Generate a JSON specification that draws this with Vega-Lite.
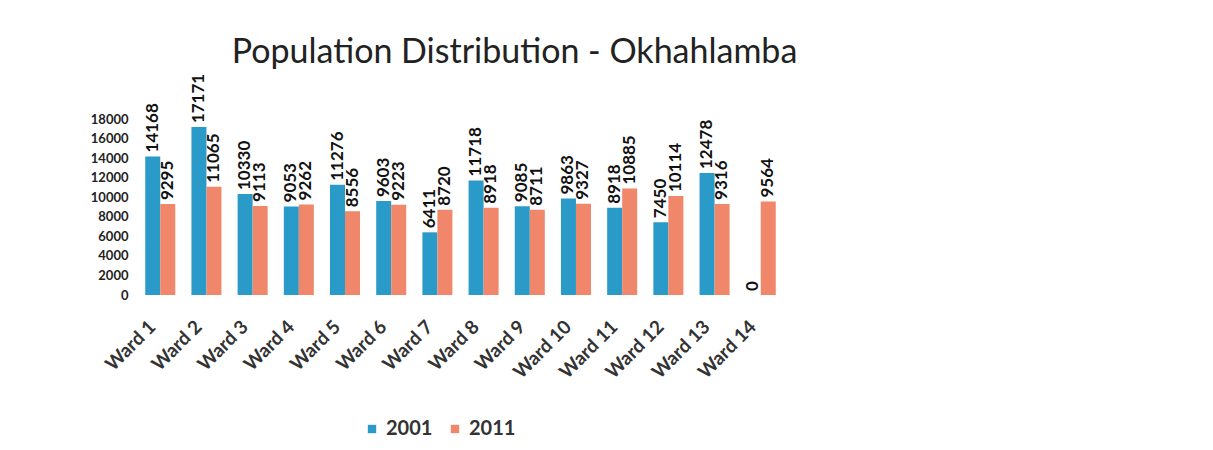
{
  "$schema": "https://vega.github.io/schema/vega-lite/v6.json",
  "width": 649,
  "height": 176,
  "autosize": "none",
  "padding": {"left": 136, "top": 119, "right": 428, "bottom": 155},
  "background": "white",
  "config": {
    "font": "Lato",
    "view": {"stroke": null}
  },
  "title": {
    "text": "Population Distribution - Okhahlamba",
    "fontSize": 34,
    "fontWeight": "normal",
    "color": "#222222",
    "anchor": "middle",
    "dx": 54,
    "offset": 4
  },
  "data": {
    "values": [
      {"ward": "Ward 1", "year": "2001", "pop": 14168},
      {"ward": "Ward 1", "year": "2011", "pop": 9295},
      {"ward": "Ward 2", "year": "2001", "pop": 17171},
      {"ward": "Ward 2", "year": "2011", "pop": 11065},
      {"ward": "Ward 3", "year": "2001", "pop": 10330},
      {"ward": "Ward 3", "year": "2011", "pop": 9113},
      {"ward": "Ward 4", "year": "2001", "pop": 9053},
      {"ward": "Ward 4", "year": "2011", "pop": 9262},
      {"ward": "Ward 5", "year": "2001", "pop": 11276},
      {"ward": "Ward 5", "year": "2011", "pop": 8556},
      {"ward": "Ward 6", "year": "2001", "pop": 9603},
      {"ward": "Ward 6", "year": "2011", "pop": 9223},
      {"ward": "Ward 7", "year": "2001", "pop": 6411},
      {"ward": "Ward 7", "year": "2011", "pop": 8720},
      {"ward": "Ward 8", "year": "2001", "pop": 11718},
      {"ward": "Ward 8", "year": "2011", "pop": 8918},
      {"ward": "Ward 9", "year": "2001", "pop": 9085},
      {"ward": "Ward 9", "year": "2011", "pop": 8711},
      {"ward": "Ward 10", "year": "2001", "pop": 9863},
      {"ward": "Ward 10", "year": "2011", "pop": 9327},
      {"ward": "Ward 11", "year": "2001", "pop": 8918},
      {"ward": "Ward 11", "year": "2011", "pop": 10885},
      {"ward": "Ward 12", "year": "2001", "pop": 7450},
      {"ward": "Ward 12", "year": "2011", "pop": 10114},
      {"ward": "Ward 13", "year": "2001", "pop": 12478},
      {"ward": "Ward 13", "year": "2011", "pop": 9316},
      {"ward": "Ward 14", "year": "2001", "pop": 0},
      {"ward": "Ward 14", "year": "2011", "pop": 9564}
    ]
  },
  "encoding": {
    "x": {
      "field": "ward",
      "type": "nominal",
      "sort": null,
      "scale": {"paddingInner": 0.35, "paddingOuter": 0.2},
      "axis": {
        "title": null,
        "labelAngle": -45,
        "labelFontSize": 19,
        "labelFontWeight": "bold",
        "labelColor": "#333333",
        "labelPadding": 22,
        "labelOffset": -14,
        "ticks": false,
        "domain": false
      }
    },
    "xOffset": {"field": "year", "type": "nominal"},
    "y": {
      "field": "pop",
      "type": "quantitative",
      "scale": {"domain": [0, 18000]},
      "axis": {
        "title": null,
        "values": [0, 2000, 4000, 6000, 8000, 10000, 12000, 14000, 16000, 18000],
        "format": "d",
        "labelFontSize": 13,
        "labelFontWeight": "bold",
        "labelColor": "#222222",
        "labelPadding": 8,
        "grid": false,
        "domain": false,
        "ticks": false
      }
    }
  },
  "layer": [
    {
      "mark": {"type": "bar"},
      "encoding": {
        "color": {
          "field": "year",
          "type": "nominal",
          "scale": {"domain": ["2001", "2011"], "range": ["#2a9bc9", "#f0866a"]},
          "legend": {
            "title": null,
            "orient": "none",
            "direction": "horizontal",
            "legendX": 226,
            "legendY": 300,
            "symbolType": "square",
            "symbolSize": 70,
            "labelFontSize": 20,
            "labelFontWeight": "bold",
            "labelColor": "#333333",
            "labelOffset": 4,
            "columnPadding": 12
          }
        }
      }
    },
    {
      "mark": {"type": "text", "angle": 270, "align": "left", "baseline": "middle", "dx": 4, "fontSize": 17, "fontWeight": "bold", "color": "#111111"},
      "encoding": {
        "text": {"field": "pop", "type": "quantitative", "format": "d"}
      }
    }
  ]
}
